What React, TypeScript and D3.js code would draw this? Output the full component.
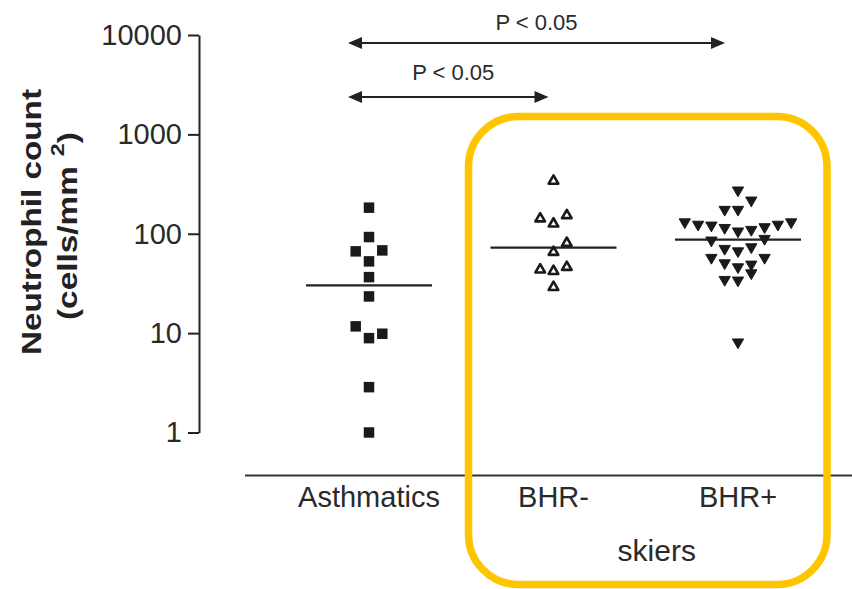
import React, { useEffect, useRef } from "react";
import * as d3 from "d3";

// ---- Data ----
const categories = ["Asthmatics", "BHR-", "BHR+"];
const groupLabel = "skiers";
const yTickValues = [1, 10, 100, 1000, 10000];

const asthmaticsValues = [183, 92.7, 66.5, 68, 52.7, 36.6, 23.4, 11.7, 9.86, 8.9, 2.86, 1.0];
const asthmaticsColumns = [0, 0, -1, 1, 0, 0, 0, -1, 1, 0, 0, 0];

const bhrMinusValues = [340, 142, 153, 126, 80.6, 65.4, 43.5, 42, 46.2, 29];
const bhrMinusColumns = [0, -1, 1, 0, 1, 0, -1, 0, 1, 0];

const bhrPlusValues = [
  274, 217, 175, 175, 131, 124, 121.5, 115, 106, 110, 117, 124, 131, 85.9, 89.3, 70.8, 66.9,
  73.5, 57.5, 57.5, 50.7, 46.2, 49.2, 40.2, 34.5, 34, 8.1,
];
const bhrPlusColumns = [
  0, 1, -1, 0, -4, -3, -2, -1, 0, 1, 2, 3, 4, -2, 2, -1, 0, 1, -2, 2, -1, 0, 1, 1, -1, 0, 0,
];

const groupMeans = [30.2, 72.4, 87.2];

const comparisonFrom = ["Asthmatics", "Asthmatics"];
const comparisonTo = ["BHR+", "BHR-"];
const comparisonLabels = ["P < 0.05", "P < 0.05"];

// ---- Layout ----
const W = 852;
const H = 589;
const FONT = "'Liberation Sans', Arial, Helvetica, sans-serif";
const INK = "#222";

export default function App() {
  const axisRef = useRef<SVGGElement>(null);

  const y = d3.scaleLog().domain([1, 10000]).range([432.5, 35]);
  const x = d3.scalePoint<string>().domain(categories).range([369, 738]);
  const jitter = d3.scaleLinear().domain([-1, 1]).range([-13.3, 13.3]);

  useEffect(() => {
    if (!axisRef.current) return;
    const g = d3.select(axisRef.current);
    g.selectAll("*").remove();
    g.call(
      d3
        .axisLeft(y)
        .tickValues(yTickValues)
        .tickFormat(d3.format("d") as any)
        .tickSizeInner(11)
        .tickSizeOuter(0)
        .tickPadding(6)
    );
    g.select(".domain").attr("stroke", INK).attr("stroke-width", 2);
    g.selectAll(".tick line").attr("stroke", INK).attr("stroke-width", 2);
    g.selectAll(".tick text")
      .attr("fill", "#2a2a2a")
      .attr("font-size", 29)
      .attr("font-family", FONT);
  }, []);

  const squareSym = d3.symbol(d3.symbolSquare, 110)()!;
  const upTri = d3.symbol(d3.symbolTriangle, 40)()!;
  const downTri = d3.symbol(d3.symbolTriangle, 55)()!;

  const arrowYs = [43, 97];
  const labelYs = [30, 80];
  const arrowStartOff = -21;
  const arrowEndOff = [-13, -5];
  const head = (tipX: number, yy: number, dir: number) =>
    `M${tipX},${yy} L${tipX - dir * 14},${yy - 6} L${tipX - dir * 14},${yy + 6} Z`;

  return (
    <svg
      width={W}
      height={H}
      style={{ position: "absolute", left: 0, top: 0, background: "#fff" }}
      fontFamily={FONT}
    >
      {/* Y axis title */}
      <text
        transform="translate(41,222) rotate(-90)"
        textAnchor="middle"
        fontSize={28}
        fontWeight="bold"
        fill={INK}
        textLength={266}
        lengthAdjust="spacingAndGlyphs"
      >
        Neutrophil count
      </text>
      <text
        transform="translate(77,226) rotate(-90)"
        textAnchor="middle"
        fontSize={27}
        fontWeight="bold"
        fill={INK}
        textLength={188}
        lengthAdjust="spacingAndGlyphs"
      >
        (cells/mm
        <tspan fontSize={19} dy={-13} dx={8}>2</tspan>
        <tspan dy={13}>)</tspan>
      </text>

      {/* Y axis */}
      <g ref={axisRef} transform="translate(199,0)" />

      {/* baseline */}
      <line x1={245} x2={852} y1={475.5} y2={475.5} stroke="#333" strokeWidth={2} />

      {/* category labels */}
      {categories.map((c) => (
        <text key={c} x={x(c)} y={507} textAnchor="middle" fontSize={29} fill="#2a2a2a">
          {c}
        </text>
      ))}
      <text
        x={(x("BHR-")! + x("BHR+")!) / 2 + 11}
        y={561}
        textAnchor="middle"
        fontSize={30}
        fill="#2a2a2a"
      >
        {groupLabel}
      </text>

      {/* comparison arrows */}
      {comparisonFrom.map((f, i) => {
        const x1 = x(f)! + arrowStartOff;
        const x2 = x(comparisonTo[i])! + arrowEndOff[i];
        const yy = arrowYs[i];
        return (
          <g key={i}>
            <line x1={x1 + 8} x2={x2 - 8} y1={yy} y2={yy} stroke={INK} strokeWidth={2} />
            <path d={head(x1, yy, -1)} fill={INK} />
            <path d={head(x2, yy, 1)} fill={INK} />
            <text
              x={(x1 + x2) / 2 + (i === 0 ? 0 : 5)}
              y={labelYs[i]}
              textAnchor="middle"
              fontSize={22}
              fill="#2a2a2a"
            >
              {comparisonLabels[i]}
            </text>
          </g>
        );
      })}

      {/* mean lines */}
      {categories.map((c, i) => (
        <line
          key={c}
          x1={x(c)! - 63}
          x2={x(c)! + 63}
          y1={y(groupMeans[i])}
          y2={y(groupMeans[i])}
          stroke={INK}
          strokeWidth={2.2}
        />
      ))}

      {/* Asthmatics: filled squares */}
      {asthmaticsValues.map((v, i) => (
        <path
          key={"a" + i}
          d={squareSym}
          transform={`translate(${x("Asthmatics")! + jitter(asthmaticsColumns[i])},${y(v)})`}
          fill="#1a1a1a"
        />
      ))}

      {/* BHR-: open up-triangles */}
      {bhrMinusValues.map((v, i) => (
        <path
          key={"m" + i}
          d={upTri}
          transform={`translate(${x("BHR-")! + jitter(bhrMinusColumns[i])},${y(v)})`}
          fill="#fff"
          stroke="#1a1a1a"
          strokeWidth={2.6}
          strokeLinejoin="round"
        />
      ))}

      {/* BHR+: filled down-triangles */}
      {bhrPlusValues.map((v, i) => (
        <path
          key={"p" + i}
          d={downTri}
          transform={`translate(${x("BHR+")! + jitter(bhrPlusColumns[i])},${y(v)}) rotate(180)`}
          fill="#1a1a1a"
          stroke="#1a1a1a"
          strokeWidth={1}
        />
      ))}

      {/* highlight box */}
      <rect
        x={468.5}
        y={116.5}
        width={358.5}
        height={468}
        rx={50}
        ry={50}
        fill="none"
        stroke="#FDC600"
        strokeWidth={7.5}
      />
    </svg>
  );
}
